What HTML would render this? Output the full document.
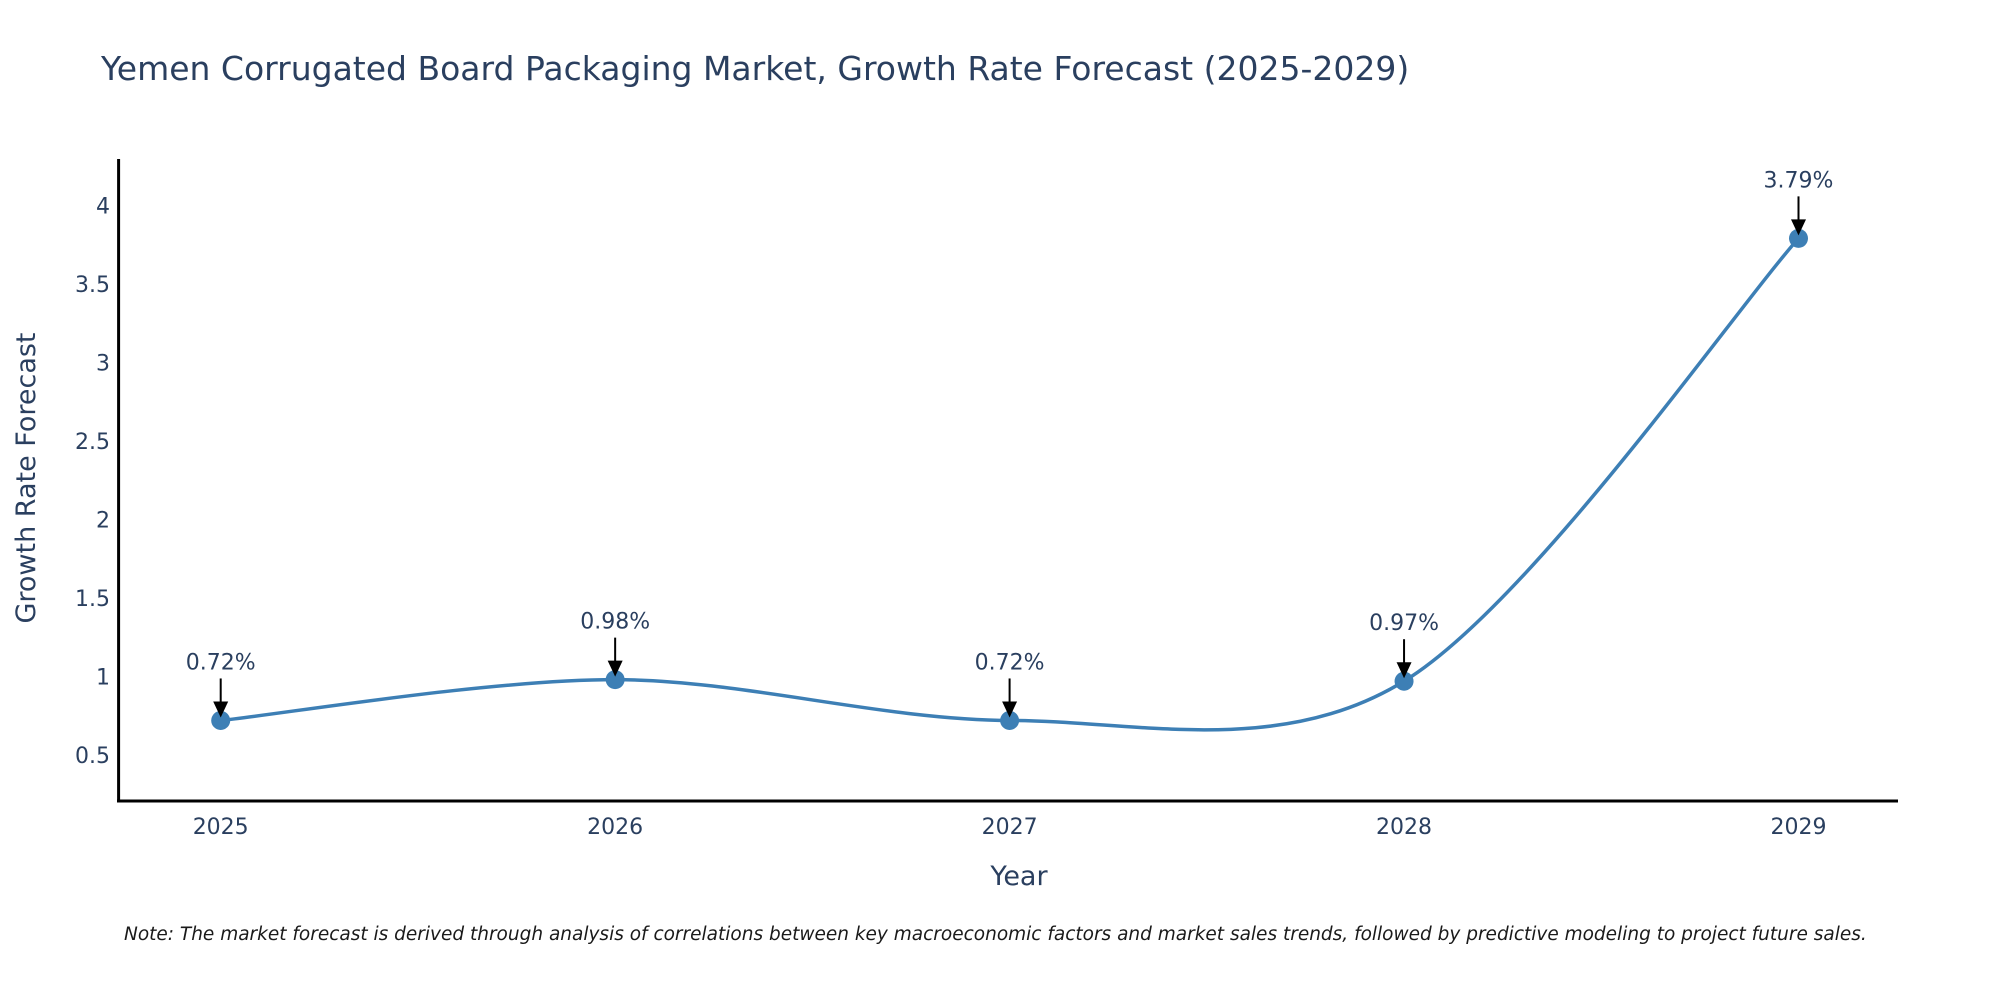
<!DOCTYPE html>
<html><head><meta charset="utf-8"><style>
body{margin:0;background:#fff}
svg text{font-family:"DejaVu Sans","Liberation Sans",sans-serif;fill:#2a3f5f}
</style></head><body>
<svg id="chart" width="2000" height="1000" viewBox="0 0 2000 1000" xmlns="http://www.w3.org/2000/svg">
<text x="101" y="80" font-size="33">Yemen Corrugated Board Packaging Market, Growth Rate Forecast (2025-2029)</text>
<line x1="118.6" y1="159" x2="118.6" y2="802" stroke="#000" stroke-width="3"/>
<line x1="117" y1="801" x2="1898" y2="801" stroke="#000" stroke-width="3"/>
<g id="yticks"></g><g id="xticks"></g>
<text x="1019" y="885" font-size="27" text-anchor="middle">Year</text>
<text transform="translate(35,478) rotate(-90)" font-size="27" text-anchor="middle">Growth Rate Forecast</text>
<path id="line" fill="none" stroke="#3d7fb5" stroke-width="3.5"/>
<g id="points"></g>
<text x="124" y="940" font-size="18.5" font-style="italic" style="fill:#1a1a1a">Note: The market forecast is derived through analysis of correlations between key macroeconomic factors and market sales trends, followed by predictive modeling to project future sales.</text>
</svg>
<script>
const years = ["2025","2026","2027","2028","2029"];
const values = [0.72, 0.98, 0.72, 0.97, 3.79];
const labels = ["0.72%","0.98%","0.72%","0.97%","3.79%"];
const yTicks = [0.5,1,1.5,2,2.5,3,3.5,4];
const yTickLabels = ["0.5","1","1.5","2","2.5","3","3.5","4"];
const NS="http://www.w3.org/2000/svg";
const xs = i => 220.7 + i*394.45;
const ys = v => 205.4 + (4 - v)*157.03;
function mk(tag, attrs, parent){const e=document.createElementNS(NS,tag);for(const k in attrs)e.setAttribute(k,attrs[k]);parent.appendChild(e);return e;}
const yt=document.getElementById('yticks');
yTicks.forEach((v,i)=>{const t=mk('text',{x:110,y:ys(v)+8,'font-size':22,'text-anchor':'end'},yt);t.textContent=yTickLabels[i];

});
const xt=document.getElementById('xticks');
years.forEach((y,i)=>{const t=mk('text',{x:xs(i),y:834,'font-size':22,'text-anchor':'middle'},xt);t.textContent=y;

});
const P=values.map((v,i)=>[xs(i),ys(v)]);
let d=`M${P[0][0]},${P[0][1]}`;const s=0.16;
for(let i=0;i<P.length-1;i++){const p0=P[Math.max(0,i-1)],p1=P[i],p2=P[i+1],p3=P[Math.min(P.length-1,i+2)];
const c1=[p1[0]+(p2[0]-p0[0])*s,p1[1]+(p2[1]-p0[1])*s],c2=[p2[0]-(p3[0]-p1[0])*s,p2[1]-(p3[1]-p1[1])*s];
d+=` C${c1[0]},${c1[1]} ${c2[0]},${c2[1]} ${p2[0]},${p2[1]}`;}
document.getElementById('line').setAttribute('d',d);
const pg=document.getElementById('points');
P.forEach((p,i)=>{
const c=mk('circle',{cx:p[0],cy:p[1],r:9.5,fill:'#3d7fb5'},pg);


const l=mk('line',{x1:p[0],y1:p[1]-42,x2:p[0],y2:p[1]-16,stroke:'#000','stroke-width':2},pg);


const h=mk('polygon',{points:`${p[0]-7.5},${p[1]-19} ${p[0]+7.5},${p[1]-19} ${p[0]},${p[1]-3}`,fill:'#000'},pg);


const t=mk('text',{x:p[0],y:p[1]-51,'font-size':22,'text-anchor':'middle'},pg);t.textContent=labels[i];


});
</script>
</body></html>
